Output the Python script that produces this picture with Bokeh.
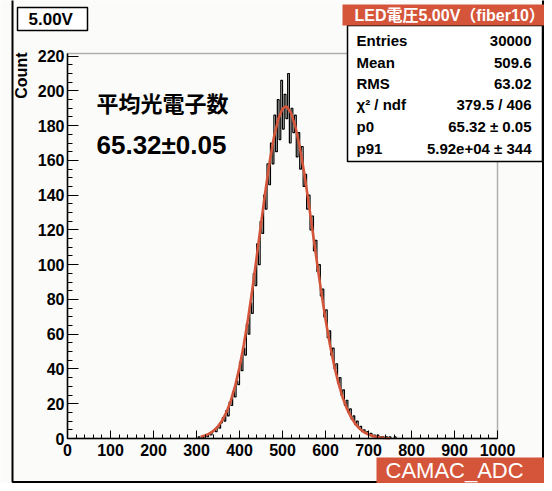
import math
from bokeh.plotting import figure
from bokeh.models import Label, BoxAnnotation, Range1d, SingleIntervalTicker
from bokeh.embed import file_html
from bokeh.resources import INLINE

# ---------------- data ----------------
bin_width = 4
hist_start = 300
hist_counts = [0, 1, 0, 1, 0, 2, 1, 3, 2, 4, 5, 4, 7, 6, 9, 12, 10, 16, 13, 21,
               19, 27, 24, 33, 31, 44, 39, 52, 48, 66, 60, 78, 72, 95, 88, 112, 100, 125, 118, 140,
               132, 158, 146, 170, 158, 186, 165, 195, 172, 206, 178, 198, 184, 210, 170, 190, 176, 186, 162, 176,
               155, 168, 145, 152, 132, 140, 120, 128, 108, 114, 96, 100, 82, 86, 70, 74, 58, 62, 48, 52,
               40, 43, 32, 35, 25, 28, 19, 22, 15, 17, 11, 13, 8, 10, 6, 7, 4, 5, 3, 4,
               2, 3, 1, 2, 1, 2, 0, 1, 1, 0, 1, 0, 1, 0, 0, 1, 0]

fit_x = [310, 320, 330, 340, 350, 360, 370, 380, 390, 400, 410, 420, 430, 440, 450,
         460, 470, 480, 490, 500, 507, 510, 520, 530, 540, 550, 560, 570, 580, 590,
         600, 610, 620, 630, 640, 650, 660, 670, 680, 690, 700, 710, 720, 730, 740, 750]
fit_y = [1.0, 1.7, 2.8, 4.5, 7.0, 10.5, 15.3, 21.9, 30.4, 41.0, 53.9, 69.1, 86.1, 104.5, 123.4,
         141.9, 158.9, 173.2, 183.7, 189.7, 191.0, 190.8, 187.2, 179.4, 167.9, 153.5, 137.0, 119.4, 101.7, 84.5,
         68.6, 54.4, 42.1, 31.9, 23.5, 17.0, 12.0, 8.2, 5.5, 3.6, 2.3, 1.5, 0.9, 0.5, 0.3, 0.15]

stat_names = ["Entries", "Mean", "RMS", "\u03c7\u00b2 / ndf", "p0", "p91"]
stat_values = ["30000", "509.6", "63.02", "379.5 / 406", "65.32 \u00b1 0.05", "5.92e+04 \u00b1 344"]

title_text = "5.00V"
stats_title = "LED\u96fb\u57275.00V\uff08fiber10\uff09"
x_title = "CAMAC_ADC"
y_title = "Count"
note_line1 = "\u5e73\u5747\u5149\u96fb\u5b50\u6570"
note_line2 = "65.32\u00b10.05"

# ---------------- styling / layout ----------------
RED = "#d5553a"
BG = "#fbfbfa"
LAT = "'Liberation Sans', 'Noto Sans CJK JP'"
CJK = "'Noto Sans CJK JP'"

W, H = 544, 483
OX, OY = 1, 0                 # picture position of the canvas
X0P, X1P = 68, 498            # picture px of x = 0 and x = 1000
Y0P, YTP = 438, 53            # picture px of y = 0 and of the frame top
YTOP = 221.5                  # data value at frame top
xs = 1000.0 / (X1P - X0P)
ys = YTOP / (Y0P - YTP)
x_start = (OX - X0P) * xs
x_end = (OX + W - X0P) * xs
y_start = -(OY + H - Y0P) * ys
y_end = (Y0P - OY) * ys

hist_x = [hist_start + i * bin_width for i in range(len(hist_counts))]

p = figure(width=W, height=H, x_range=Range1d(x_start, x_end), y_range=Range1d(y_start, y_end),
           output_backend="svg", toolbar_location=None,
           min_border_left=0, min_border_right=0, min_border_top=0, min_border_bottom=0)
p.background_fill_color = BG
p.border_fill_color = BG
p.outline_line_color = None
p.grid.visible = False

p.xaxis.ticker = SingleIntervalTicker(interval=100, num_minor_ticks=5)
p.yaxis.ticker = SingleIntervalTicker(interval=20, num_minor_ticks=4)
p.xaxis.fixed_location = 0
p.yaxis.fixed_location = 0
p.xaxis.bounds = (0, 1000)
p.yaxis.bounds = (0, YTOP)
for ax in (p.xaxis[0], p.yaxis[0]):
    ax.axis_line_color = "black"
    ax.axis_line_width = 1.5
    ax.major_tick_out = 0
    ax.minor_tick_out = 0
    ax.major_tick_line_color = "black"
    ax.minor_tick_line_color = "black"
    ax.major_label_text_font = "Liberation Sans"
    ax.major_label_text_font_style = "bold"
    ax.major_label_text_font_size = "16px"
    ax.major_label_text_color = "black"
p.xaxis.major_tick_in = 8
p.xaxis.minor_tick_in = 4
p.yaxis.major_tick_in = 11
p.yaxis.minor_tick_in = 5
p.xaxis.major_label_standoff = 5
p.yaxis.major_label_standoff = 3

p.step(hist_x, hist_counts, mode="after", color="black", line_width=1.2)
p.line(fit_x, fit_y, color=RED, line_width=2.6)


def sx(px):
    return px - OX


def sy(py):
    return OY + H - py


def box(l, r, t, b, fill, line=None, lw=1.5):
    return BoxAnnotation(left=sx(l), right=sx(r), top=sy(t), bottom=sy(b),
                         left_units="screen", right_units="screen",
                         top_units="screen", bottom_units="screen",
                         fill_color=fill if fill else "white", fill_alpha=1 if fill else 0,
                         line_color=line if line else "black", line_width=lw,
                         line_alpha=1 if line else 0)


def lab(text, px, py, size, font=LAT, style="bold", align="left", color="black", angle=0):
    return Label(x=sx(px), y=sy(py), x_units="screen", y_units="screen", text=text,
                 text_font=font, text_font_size=size, text_font_style=style,
                 text_align=align, text_baseline="middle", text_color=color, angle=angle)


# frame outline
p.add_layout(BoxAnnotation(left=0, right=1000, bottom=0, top=YTOP, fill_alpha=0,
                           line_color="black", line_width=1.5))
# outer pad border
p.add_layout(box(13, 543.5, -5, 481.5, None, "black", 2))

# title box
p.add_layout(box(18, 88, 7, 30, "white", "black", 1.5))
p.add_layout(lab(title_text, 29, 18.5, "17px"))

# y title
p.add_layout(lab(y_title, 22, 52, "16px", align="right", angle=math.pi / 2))

# annotation text
p.add_layout(lab(note_line1, 97, 101, "22px", font=CJK))
p.add_layout(lab(note_line2, 97, 144, "26px"))

# stats box
p.add_layout(box(348, 543, 25, 161, "white", "black", 1.5))
p.add_layout(box(343, 547, 4, 25, RED))
p.add_layout(lab(stats_title, 355, 15, "16px", color="white"))
row_y = [40, 62, 83, 104, 126, 148]
for name, val, yy in zip(stat_names, stat_values, row_y):
    p.add_layout(lab(name, 357, yy, "15px"))
    p.add_layout(lab(val, 532, yy, "15px", align="right"))

# x title box
p.add_layout(box(377, 548, 457, 495, RED))
p.add_layout(lab(x_title, 386, 470, "22px", style="normal", color="white"))

open("out.html", "w").write(file_html(p, INLINE))
